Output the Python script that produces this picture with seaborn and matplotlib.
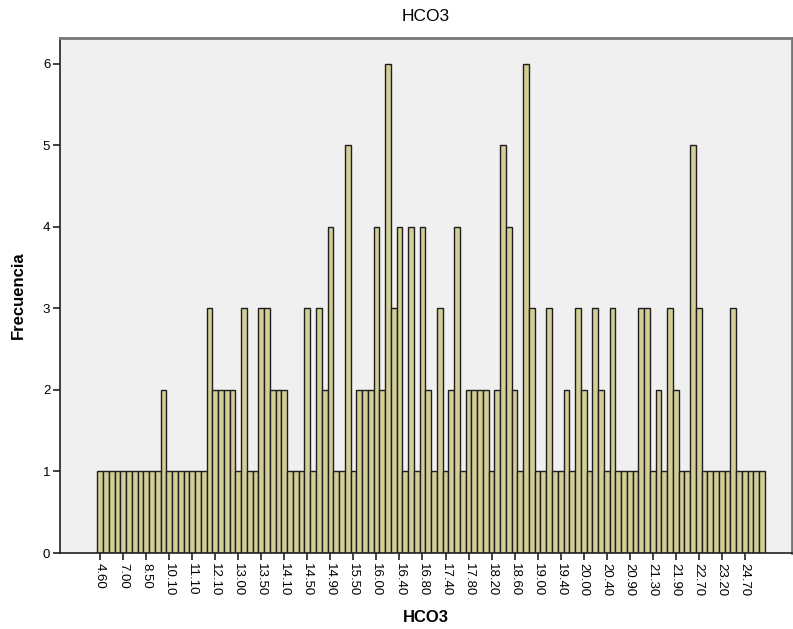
import matplotlib
matplotlib.use("Agg")
import matplotlib.pyplot as plt
import seaborn as sns
import pandas as pd

# Frequency of each distinct HCO3 value (116 categories, left to right)
counts = [
    1, 1, 1, 1, 1, 1, 1, 1, 1, 1, 1, 2, 1, 1, 1, 1, 1, 1, 1, 3,
    2, 2, 2, 2, 1, 3, 1, 1, 3, 3, 2, 2, 2, 1, 1, 1, 3, 1, 3, 2,
    4, 1, 1, 5, 1, 2, 2, 2, 4, 2, 6, 3, 4, 1, 4, 1, 4, 2, 1, 3,
    1, 2, 4, 1, 2, 2, 2, 2, 1, 2, 5, 4, 2, 1, 6, 3, 1, 1, 3, 1,
    1, 2, 1, 3, 2, 1, 3, 2, 1, 3, 1, 1, 1, 1, 3, 3, 1, 2, 1, 3,
    2, 1, 1, 5, 3, 1, 1, 1, 1, 1, 3, 1, 1, 1, 1, 1,
]

# Visible tick labels (every 4th category)
tick_labels = [
    "4.60", "7.00", "8.50", "10.10", "11.10", "12.10", "13.00", "13.50",
    "14.10", "14.50", "14.90", "15.50", "16.00", "16.40", "16.80", "17.40",
    "17.80", "18.20", "18.60", "19.00", "19.40", "20.00", "20.40", "20.90",
    "21.30", "21.90", "22.70", "23.20", "24.70",
]
label_step = 4

df = pd.DataFrame({"idx": list(range(len(counts))), "freq": counts})

sns.set_style("white")
plt.rcParams["font.family"] = ["Liberation Sans", "DejaVu Sans"]
plt.rcParams["text.color"] = "black"
plt.rcParams["axes.labelcolor"] = "black"
plt.rcParams["xtick.color"] = "black"
plt.rcParams["ytick.color"] = "black"

fig = plt.figure(figsize=(7.93, 6.29), dpi=100)
ax = fig.add_axes([60 / 793, 1 - 553 / 629, 732 / 793, (553 - 37.5) / 629])
ax.set_facecolor("#f0f0f0")

sns.barplot(data=df, x="idx", y="freq", ax=ax, color="#d3cd96",
            edgecolor="#1e1e1e", linewidth=1.0, width=1.0, saturation=1.0,
            errorbar=None, native_scale=False)

ax.set_xlim(-6.98, 120.2)
ax.set_ylim(0, 6.325)

ax.set_xticks(list(range(0, len(tick_labels) * label_step, label_step)))
ax.set_xticklabels(tick_labels, rotation=270, fontsize=9.5, color="black")
ax.set_yticks(range(0, 7))
ax.set_yticklabels([str(v) for v in range(0, 7)], fontsize=9.5, color="black")
ax.tick_params(axis="both", direction="out", length=5, width=1.2, color="#222222", pad=2)
ax.tick_params(axis="x", bottom=True)
ax.tick_params(axis="y", left=True)

for side in ["left", "bottom"]:
    ax.spines[side].set_color("#222222")
    ax.spines[side].set_linewidth(1.2)
for side in ["top", "right"]:
    ax.spines[side].set_color("#777777")
    ax.spines[side].set_linewidth(2.0)

ax.set_title("HCO3", fontsize=12.5, pad=12, color="black")
ax.set_xlabel("HCO3", fontsize=12, fontweight="bold", labelpad=10, color="black")
ax.set_ylabel("Frecuencia", fontsize=12, fontweight="bold", labelpad=12, color="black")

fig.savefig("out.png", dpi=100)
